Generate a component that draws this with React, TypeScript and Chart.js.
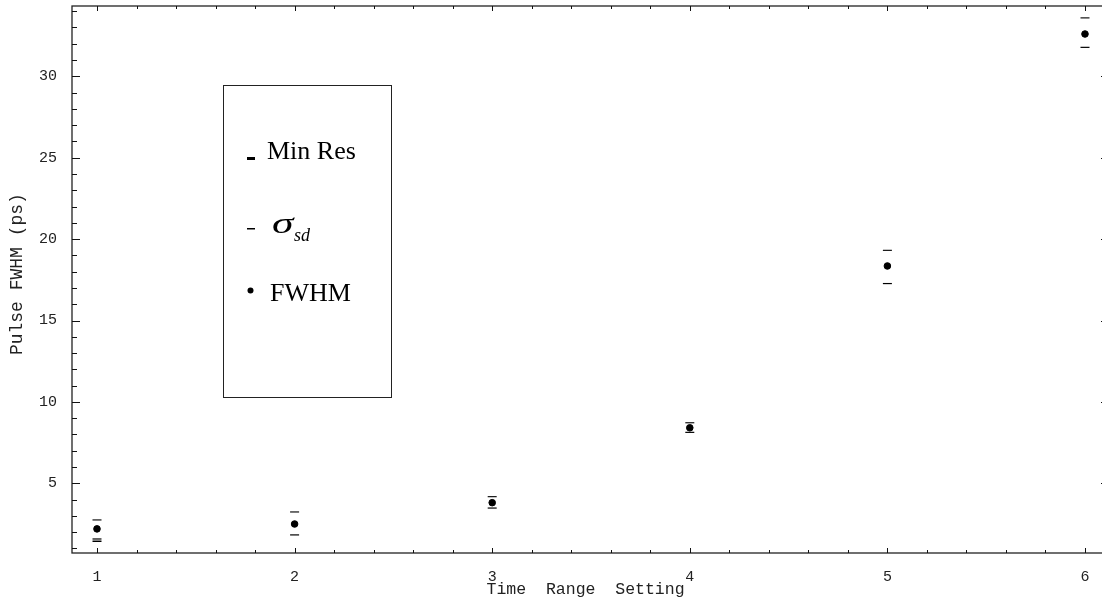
import { useEffect, useRef } from 'react';
import { Chart, registerables } from 'chart.js';

Chart.register(...registerables);

// ---- data ----
const settings = [1, 2, 3, 4, 5, 6];
const fwhm = [2.2, 2.5, 3.81, 8.41, 18.35, 32.6];
const sdUpper = [2.75, 3.24, 4.18, 8.72, 19.31, 33.59];
const sdLower = [1.58, 1.83, 3.48, 8.13, 17.27, 31.78];
const minRes = [1.44, null, null, null, null, null];

const xTicks = [1, 2, 3, 4, 5, 6];
const yTicks = [5, 10, 15, 20, 25, 30];
const xTitle = 'Time  Range  Setting ';
const yTitle = ' Pulse FWHM (ps)';
const legendLabels = ['Min Res', 'σ', 'sd', 'FWHM'];

const X_MIN = 0.8735;
const X_MAX = 6.1215;
const Y_MIN = 0.719;
const Y_MAX = 34.32;

const MONO = '"Liberation Mono", "Courier New", monospace';
const SERIF = '"Liberation Serif", "Times New Roman", serif';

const pts = (arr: (number | null)[]) =>
  settings
    .map((x, i) => (arr[i] == null ? null : { x, y: arr[i] as number }))
    .filter((p) => p !== null) as { x: number; y: number }[];

const framePlugin = {
  id: 'frame',
  beforeDatasetsDraw(chart: any) {
    const { ctx, chartArea: a, scales } = chart;
    const xs = scales.x;
    const ys = scales.y;
    ctx.save();
    ctx.strokeStyle = '#222';
    ctx.lineWidth = 1.3;
    ctx.strokeRect(a.left, a.top, a.right - a.left, a.bottom - a.top);
    ctx.lineWidth = 1;
    ctx.strokeStyle = '#111';
    const vline = (px: number, len: number) => {
      ctx.beginPath();
      ctx.moveTo(px, a.bottom);
      ctx.lineTo(px, a.bottom - len);
      ctx.moveTo(px, a.top);
      ctx.lineTo(px, a.top + len);
      ctx.stroke();
    };
    const hline = (py: number, len: number) => {
      ctx.beginPath();
      ctx.moveTo(a.left, py);
      ctx.lineTo(a.left + len, py);
      ctx.moveTo(a.right, py);
      ctx.lineTo(a.right - len, py);
      ctx.stroke();
    };
    for (let k = Math.ceil(X_MIN * 5); k <= Math.floor(X_MAX * 5); k++) {
      const v = k / 5;
      const major = k % 5 === 0;
      vline(Math.round(xs.getPixelForValue(v)) + 0.5, major ? 5 : 3);
    }
    for (let v = Math.ceil(Y_MIN); v <= Math.floor(Y_MAX); v++) {
      const major = v % 5 === 0;
      hline(Math.round(ys.getPixelForValue(v)) + 0.5, major ? 8 : 5);
    }
    ctx.restore();
  },
};

const legendPlugin = {
  id: 'boxLegend',
  afterDatasetsDraw(chart: any) {
    const { ctx } = chart;
    ctx.save();
    ctx.strokeStyle = '#222';
    ctx.lineWidth = 1;
    ctx.strokeRect(223.5, 85.5, 168, 312);
    ctx.fillStyle = '#000';
    // Min Res marker (thick dash)
    ctx.fillRect(247, 157, 8, 3);
    // sigma marker (thin dash)
    ctx.fillRect(247, 228, 8, 1.5);
    // FWHM marker (dot)
    ctx.beginPath();
    ctx.arc(250.5, 290.5, 3, 0, Math.PI * 2);
    ctx.fill();
    ctx.textBaseline = 'alphabetic';
    ctx.textAlign = 'left';
    ctx.font = `26px ${SERIF}`;
    ctx.fillText(legendLabels[0], 267, 159);
    ctx.save();
    ctx.translate(272, 233);
    ctx.scale(1.5, 1);
    ctx.font = `italic 29px ${SERIF}`;
    ctx.fillText(legendLabels[1], 0, 0);
    ctx.restore();
    ctx.font = `italic 18px ${SERIF}`;
    ctx.fillText(legendLabels[2], 294, 241);
    ctx.font = `26px ${SERIF}`;
    ctx.fillText(legendLabels[3], 270, 301);
    ctx.restore();
  },
};

const zeroPad = (s: any) => {
  s.paddingTop = 0;
  s.paddingBottom = 0;
  s.paddingLeft = 0;
  s.paddingRight = 0;
};

export default function App() {
  const ref = useRef<HTMLCanvasElement>(null);
  useEffect(() => {
    const canvas = ref.current;
    if (!canvas) return;
    const chart = new Chart(canvas, {
      type: 'scatter',
      data: {
        datasets: [
          {
            label: 'σsd upper',
            data: pts(sdUpper),
            pointStyle: 'line',
            pointRadius: 4.5,
            borderWidth: 1.2,
            borderColor: '#111',
            backgroundColor: '#111',
          },
          {
            label: 'σsd lower',
            data: pts(sdLower),
            pointStyle: 'line',
            pointRadius: 4.5,
            borderWidth: 1.2,
            borderColor: '#000',
            backgroundColor: '#000',
          },
          {
            label: 'Min Res',
            data: pts(minRes),
            pointStyle: 'line',
            pointRadius: 4.5,
            borderWidth: 1.5,
            borderColor: '#000',
            backgroundColor: '#000',
          },
          {
            label: 'FWHM',
            data: pts(fwhm),
            pointStyle: 'circle',
            pointRadius: 3.3,
            borderWidth: 1,
            borderColor: '#000',
            backgroundColor: '#000',
          },
        ],
      } as any,
      options: {
        responsive: false,
        animation: false,
        layout: { padding: { top: 6, right: 0, left: 0, bottom: 0 } },
        plugins: { legend: { display: false }, tooltip: { enabled: false } },
        scales: {
          x: {
            type: 'linear',
            min: X_MIN,
            max: X_MAX,
            afterBuildTicks: (s: any) => {
              s.ticks = xTicks.map((v) => ({ value: v }));
            },
            afterFit: (s: any) => {
              s.height = 49;
              zeroPad(s);
            },
            grid: { display: false, drawTicks: false },
            border: { display: false },
            ticks: {
              color: '#222',
              font: { family: MONO, size: 15 },
              padding: 15,
              maxRotation: 0,
              autoSkip: false,
              callback: (v: any) => String(v),
            },
            title: {
              display: true,
              text: xTitle,
              color: '#222',
              font: { family: MONO, size: 16.5 },
              padding: { top: 0, bottom: 2 },
            },
          },
          y: {
            type: 'linear',
            min: Y_MIN,
            max: Y_MAX,
            afterBuildTicks: (s: any) => {
              s.ticks = yTicks.map((v) => ({ value: v }));
            },
            afterFit: (s: any) => {
              s.width = 72;
              zeroPad(s);
            },
            grid: { display: false, drawTicks: false },
            border: { display: false },
            ticks: {
              color: '#222',
              font: { family: MONO, size: 15 },
              padding: 15,
              autoSkip: false,
              callback: (v: any) => String(v),
            },
            title: {
              display: true,
              text: yTitle,
              color: '#222',
              font: { family: MONO, size: 18 },
              padding: { top: 6, bottom: 0 },
            },
          },
        },
      } as any,
      plugins: [framePlugin, legendPlugin],
    });
    return () => chart.destroy();
  }, []);

  return (
    <div
      style={{
        position: 'fixed',
        left: 0,
        top: 0,
        width: 1102,
        height: 602,
        overflow: 'hidden',
        background: '#fff',
      }}
    >
      <canvas ref={ref} width={1115} height={602} style={{ width: 1115, height: 602, display: 'block' }} />
    </div>
  );
}
